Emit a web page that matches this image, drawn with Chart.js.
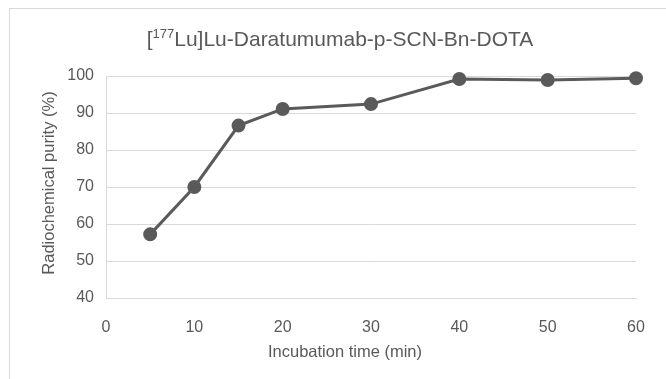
<!DOCTYPE html>
<html lang="en">
<head>
    <meta charset="UTF-8">
    <title>Radiochemical purity</title>
    <script src="https://cdn.jsdelivr.net/npm/chart.js"></script>
    <style>
        body {
            margin: 0;
            padding: 0;
            background: #fff;
            font-family: "Liberation Sans", Arial, sans-serif;
        }

        .wrap {
            position: relative;
            width: 666px;
            height: 379px;
            overflow: hidden;
        }

        .frame {
            position: absolute;
            left: 9px;
            top: 8px;
            width: 700px;
            height: 400px;
            border-top: 1px solid #d9d9d9;
            border-left: 1px solid #d9d9d9;
        }

        canvas {
            position: absolute;
            left: 0;
            top: 0;
        }
    </style>
</head>
<body>
    <div class="wrap">
        <div class="frame"></div>
        <canvas id="myChart" width="666" height="379"></canvas>
    </div>

    <script>
        // data
        const times = [5, 10, 15, 20, 30, 40, 50, 60];
        const purity = [57.2, 70, 86.6, 91.1, 92.4, 99.2, 98.9, 99.4];

        const titleMain = 'Lu]Lu-Daratumumab-p-SCN-Bn-DOTA';
        const titleSup = '177';
        const xTitle = 'Incubation time (min)';
        const yTitle = 'Radiochemical purity (%)';

        const textColor = '#595959';
        const gridColor = '#d9d9d9';
        const fontFamily = '"Liberation Sans", Arial, sans-serif';

        // titles drawn by hand (superscript in the chart title)
        const titlesPlugin = {
            id: 'titles',
            afterDraw(chart) {
                const ctx = chart.ctx;
                ctx.save();
                ctx.fillStyle = textColor;
                ctx.textBaseline = 'alphabetic';

                const big = '21px ' + fontFamily;
                const small = '13px ' + fontFamily;
                ctx.font = big;
                const w1 = ctx.measureText('[').width;
                const w3 = ctx.measureText(titleMain).width;
                ctx.font = small;
                const w2 = ctx.measureText(titleSup).width;
                let x = 340 - (w1 + w2 + w3) / 2;
                const base = 46;
                ctx.textAlign = 'left';
                ctx.font = big;
                ctx.fillText('[', x, base);
                x += w1;
                ctx.font = small;
                ctx.fillText(titleSup, x, base - 8);
                x += w2;
                ctx.font = big;
                ctx.fillText(titleMain, x, base);

                ctx.font = '16.5px ' + fontFamily;
                ctx.textAlign = 'center';
                ctx.textBaseline = 'middle';
                ctx.fillText(xTitle, 345, 352);

                ctx.translate(49, 183);
                ctx.rotate(-Math.PI / 2);
                ctx.fillText(yTitle, 0, 0);
                ctx.restore();
            }
        };

        const ctx = document.getElementById('myChart').getContext('2d');

        const chart = new Chart(ctx, {
            type: 'line',
            data: {
                datasets: [{
                    data: times.map((t, i) => ({ x: t, y: purity[i] })),
                    borderColor: '#5a5a5a',
                    backgroundColor: '#5a5a5a',
                    borderWidth: 3,
                    pointRadius: 5.5,
                    pointHoverRadius: 5.5,
                    tension: 0,
                    clip: false
                }]
            },
            options: {
                responsive: false,
                animation: false,
                layout: {
                    padding: { top: 76, right: 30, left: 0, bottom: 0 }
                },
                scales: {
                    x: {
                        type: 'linear',
                        min: 0,
                        max: 60,
                        afterFit: function (scale) {
                            scale.height = 81;
                        },
                        ticks: {
                            stepSize: 10,
                            color: textColor,
                            padding: 12,
                            maxRotation: 0,
                            font: { size: 16, family: fontFamily }
                        },
                        grid: { display: false },
                        border: { display: true, color: gridColor, width: 1 }
                    },
                    y: {
                        min: 40,
                        max: 100,
                        afterFit: function (scale) {
                            scale.width = 106;
                        },
                        ticks: {
                            stepSize: 10,
                            color: textColor,
                            padding: 12,
                            font: { size: 16, family: fontFamily }
                        },
                        grid: { color: gridColor, drawTicks: false },
                        border: { display: true, color: gridColor, width: 1 }
                    }
                },
                plugins: {
                    legend: { display: false },
                    title: { display: false },
                    tooltip: { enabled: false }
                }
            },
            plugins: [titlesPlugin]
        });
    </script>
</body>
</html>
